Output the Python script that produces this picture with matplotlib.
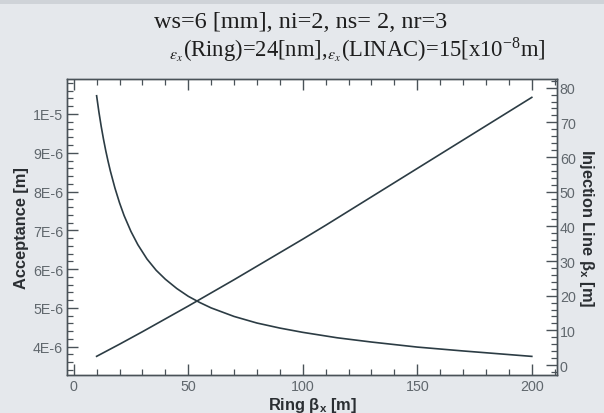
import matplotlib
matplotlib.use("Agg")
import matplotlib.pyplot as plt
from matplotlib.ticker import MultipleLocator, FuncFormatter
from matplotlib.patches import Rectangle

# Data
ring_beta_acc = [10, 11, 12, 13, 14, 15, 16, 18, 20, 22, 25, 28, 32, 36, 40, 45, 50,
                 55, 60, 70, 80, 90, 100, 115, 130, 150, 170, 185, 200]
acceptance_e6 = [10.47, 10.05, 9.68, 9.35, 9.05, 8.78, 8.53, 8.09, 7.71, 7.38, 6.97,
                 6.63, 6.26, 5.97, 5.74, 5.50, 5.30, 5.14, 5.00, 4.78, 4.61, 4.48,
                 4.37, 4.23, 4.12, 3.99, 3.89, 3.82, 3.75]
ring_beta_inj = [10, 20, 30, 40, 50, 60, 70, 80, 90, 100, 110, 120, 130, 140, 150,
                 160, 170, 180, 190, 200]
inj_beta = [2.5, 6.0, 9.6, 13.3, 17.0, 20.8, 24.6, 28.5, 32.4, 36.3, 40.3, 44.4, 48.5,
            52.6, 56.7, 60.8, 64.9, 69.0, 73.1, 77.2]

bg = "#e5e8ec"
line_c = "#2c3c44"
tick_c = "#60676d"
axis_c = "#4a5258"

plt.rcParams["mathtext.fontset"] = "stix"

fig = plt.figure(figsize=(6.04, 4.14), dpi=100, facecolor=bg)
fig.patches.append(Rectangle((0, 1 - 5 / 414), 1, 5 / 414, transform=fig.transFigure,
                             facecolor="#cfd3d8", edgecolor="none"))
ax = fig.add_axes([67.3 / 604, 1 - 375.5 / 414, (557 - 67.3) / 604, (375.5 - 80) / 414])
ax.set_facecolor("white")
acc = [a * 1e-6 for a in acceptance_e6]
ax.plot(ring_beta_acc, acc, color=line_c, lw=1.2)
ax.set_xlim(-2.8, 211)
ax.set_ylim(3.283e-6, 1.0902e-5)

ax2 = ax.twinx()
ax2.plot(ring_beta_inj, inj_beta, color=line_c, lw=1.2)
ax2.set_ylim(-2.74, 82.5)

def left_fmt(v, pos):
    m = round(v * 1e6)
    if m >= 10:
        return "1E-5"
    return f"{m}E-6"

ax.xaxis.set_major_locator(MultipleLocator(50))
ax.xaxis.set_minor_locator(MultipleLocator(10))
ax.yaxis.set_major_locator(MultipleLocator(1e-6))
ax.yaxis.set_minor_locator(MultipleLocator(2e-7))
ax.yaxis.set_major_formatter(FuncFormatter(left_fmt))
ax2.yaxis.set_major_locator(MultipleLocator(10))
ax2.yaxis.set_minor_locator(MultipleLocator(2))

for a in (ax, ax2):
    for s in a.spines.values():
        s.set_color(axis_c)
        s.set_linewidth(1.0)

ax.tick_params(axis="x", which="both", direction="in", top=True, colors=axis_c,
               labelcolor=tick_c, labelsize=10.3)
ax.tick_params(axis="y", which="both", direction="in", colors=axis_c,
               labelcolor=tick_c, labelsize=10.3, pad=3)
ax2.tick_params(axis="y", which="both", direction="in", colors=axis_c,
                labelcolor=tick_c, labelsize=10.3, pad=2)
ax.tick_params(which="major", length=8, width=1.0)
ax.tick_params(which="minor", length=4, width=0.9)
ax2.tick_params(which="major", length=8, width=1.0)
ax2.tick_params(which="minor", length=4, width=0.9)
for lab in ax.get_xticklabels() + ax.get_yticklabels() + ax2.get_yticklabels():
    lab.set_family("Liberation Sans")

lab_font = dict(family="Liberation Sans", fontsize=11.8, fontweight="bold", color="#2a2e32")
ax.set_ylabel("Acceptance [m]", labelpad=3, **lab_font)
ax.set_xlabel(r"Ring $\mathregular{\beta_x}$ [m]", labelpad=1, **lab_font)
ax2.set_ylabel(r"Injection Line $\mathregular{\beta_x}$ [m]", rotation=-90, labelpad=15,
               **lab_font)

fig.text(0.498, 1 - 23 / 414, "ws=6 [mm], ni=2, ns= 2, nr=3", ha="center", va="center",
         family="Liberation Serif", fontsize=17.5, color="#1e1e1e")
fig.text(0.592, 1 - 50 / 414,
         r"$_{\varepsilon_x}$(Ring)=24[nm],$_{\varepsilon_x}$(LINAC)=15[x10$^{\mathregular{-8}}$m]",
         ha="center", va="center", family="Liberation Serif", fontsize=16.3, color="#1e1e1e")

fig.savefig("out.png", dpi=100, facecolor=bg)
